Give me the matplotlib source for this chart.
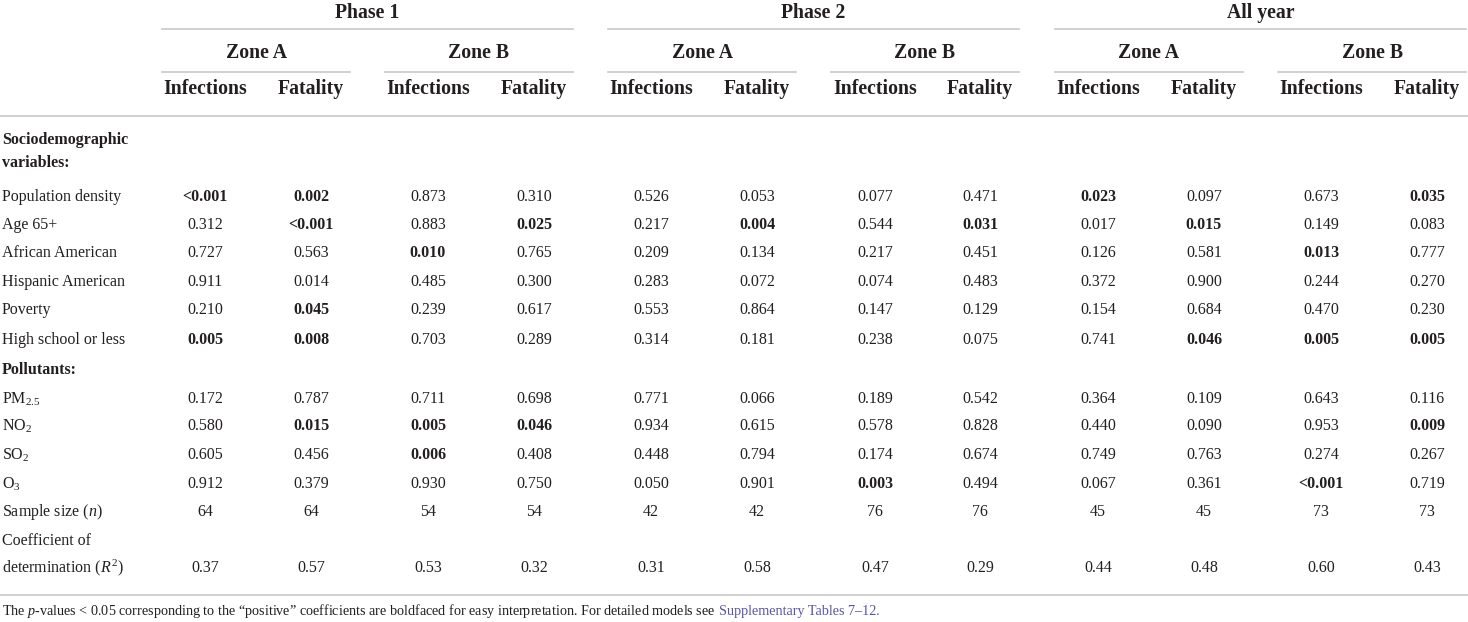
import matplotlib
matplotlib.use("Agg")
import matplotlib.pyplot as plt
import numpy as np

plt.rcParams['font.family'] = ['Liberation Serif', 'DejaVu Serif']
plt.rcParams['mathtext.fontset'] = 'custom'
plt.rcParams['mathtext.rm'] = 'Liberation Serif'
plt.rcParams['mathtext.it'] = 'Liberation Serif:italic'
plt.rcParams['mathtext.bf'] = 'Liberation Serif:bold'

phases = ["Phase 1", "Phase 2", "All year"]
zones = ["Zone A", "Zone B"]
outcomes = ["Infections", "Fatality"]

row_labels = ["Population density", "Age 65+", "African American", "Hispanic American",
              "Poverty", "High school or less",
              "PM$_{2.5}$", "NO$_2$", "SO$_2$", "O$_3$"]

values = [
    ["<0.001", "0.002", "0.873", "0.310", "0.526", "0.053", "0.077", "0.471", "0.023", "0.097", "0.673", "0.035"],
    ["0.312", "<0.001", "0.883", "0.025", "0.217", "0.004", "0.544", "0.031", "0.017", "0.015", "0.149", "0.083"],
    ["0.727", "0.563", "0.010", "0.765", "0.209", "0.134", "0.217", "0.451", "0.126", "0.581", "0.013", "0.777"],
    ["0.911", "0.014", "0.485", "0.300", "0.283", "0.072", "0.074", "0.483", "0.372", "0.900", "0.244", "0.270"],
    ["0.210", "0.045", "0.239", "0.617", "0.553", "0.864", "0.147", "0.129", "0.154", "0.684", "0.470", "0.230"],
    ["0.005", "0.008", "0.703", "0.289", "0.314", "0.181", "0.238", "0.075", "0.741", "0.046", "0.005", "0.005"],
    ["0.172", "0.787", "0.711", "0.698", "0.771", "0.066", "0.189", "0.542", "0.364", "0.109", "0.643", "0.116"],
    ["0.580", "0.015", "0.005", "0.046", "0.934", "0.615", "0.578", "0.828", "0.440", "0.090", "0.953", "0.009"],
    ["0.605", "0.456", "0.006", "0.408", "0.448", "0.794", "0.174", "0.674", "0.749", "0.763", "0.274", "0.267"],
    ["0.912", "0.379", "0.930", "0.750", "0.050", "0.901", "0.003", "0.494", "0.067", "0.361", "<0.001", "0.719"],
]

bold = [
    [1, 1, 0, 0, 0, 0, 0, 0, 1, 0, 0, 1],
    [0, 1, 0, 1, 0, 1, 0, 1, 0, 1, 0, 0],
    [0, 0, 1, 0, 0, 0, 0, 0, 0, 0, 1, 0],
    [0, 0, 0, 0, 0, 0, 0, 0, 0, 0, 0, 0],
    [0, 1, 0, 0, 0, 0, 0, 0, 0, 0, 0, 0],
    [1, 1, 0, 0, 0, 0, 0, 0, 0, 1, 1, 1],
    [0, 0, 0, 0, 0, 0, 0, 0, 0, 0, 0, 0],
    [0, 1, 1, 1, 0, 0, 0, 0, 0, 0, 0, 1],
    [0, 0, 1, 0, 0, 0, 0, 0, 0, 0, 0, 0],
    [0, 0, 0, 0, 0, 0, 1, 0, 0, 0, 1, 0],
]

sample_size = ["64", "64", "54", "54", "42", "42", "76", "76", "45", "45", "73", "73"]
r_squared = ["0.37", "0.57", "0.53", "0.32", "0.31", "0.58", "0.47", "0.29", "0.44", "0.48", "0.60", "0.43"]

W, H = 1468, 622
fig = plt.figure(figsize=(W / 100, H / 100), dpi=100)
ax = fig.add_axes([0, 0, 1, 1])
ax.set_xlim(0, W)
ax.set_ylim(H, 0)
ax.axis('off')

ink = '#231f20'
rule = '#c8c8c8'
fs = 11.5
hfs = 14.2
nfs = 10.2

# column layout
col_x = [205, 311, 428, 534, 651, 757, 875, 980, 1098, 1204, 1321, 1427]
phase_span = [(162, 573), (608, 1019), (1055, 1466)]

for p, (x0, x1) in enumerate(phase_span):
    ax.text((x0 + x1) / 2, 13, phases[p], ha='center', va='center', fontsize=hfs,
            fontweight='bold', color=ink)
    ax.plot([x0, x1], [29, 29], color=rule, lw=1.2)
    mid = (x0 + x1) / 2
    for z, (z0, z1) in enumerate([(x0, mid - 17.5), (mid + 17.5, x1)]):
        ax.text((z0 + z1) / 2, 53, zones[z], ha='center', va='center', fontsize=hfs,
                fontweight='bold', color=ink)
        ax.plot([z0, z1], [72, 72], color=rule, lw=1.2)
        for o in range(2):
            ax.text(col_x[p * 4 + z * 2 + o], 89, outcomes[o], ha='center', va='center',
                    fontsize=hfs, fontweight='bold', color=ink)

ax.plot([0, W], [116, 116], color=rule, lw=1.2)
ax.plot([0, W], [595, 595], color=rule, lw=1.2)

ax.text(2, 140, "Sociodemographic", ha='left', va='center', fontsize=fs, fontweight='bold', color=ink)
ax.text(2, 163, "variables:", ha='left', va='center', fontsize=fs, fontweight='bold', color=ink)
ax.text(2, 370, "Pollutants:", ha='left', va='center', fontsize=fs, fontweight='bold', color=ink)

row_y = [197, 225, 253, 282, 310, 340, 399, 426, 455, 484]
for r, y in enumerate(row_y):
    ax.text(2, y, row_labels[r], ha='left', va='center', fontsize=fs, color=ink)
    for c in range(12):
        ax.text(col_x[c], y, values[r][c], ha='center', va='center', fontsize=fs,
                fontweight='bold' if bold[r][c] else 'normal', color=ink)

ax.text(2, 512, "Sample size ($n$)", ha='left', va='center', fontsize=fs, color=ink)
ax.text(2, 541, "Coefficient of", ha='left', va='center', fontsize=fs, color=ink)
ax.text(2, 568, "determination ($R^2$)", ha='left', va='center', fontsize=fs, color=ink)
for c in range(12):
    ax.text(col_x[c], 512, sample_size[c], ha='center', va='center', fontsize=fs, color=ink)
    ax.text(col_x[c], 568, r_squared[c], ha='center', va='center', fontsize=fs, color=ink)

note = ax.text(2, 611, "The $\\it{p}$-values < 0.05 corresponding to the \u201cpositive\u201d coefficients are "
               "boldfaced for easy interpretation. For detailed models see",
               ha='left', va='center', fontsize=nfs, color=ink)
fig.canvas.draw()
bb = note.get_window_extent(fig.canvas.get_renderer())
x_end = ax.transData.inverted().transform((bb.x1, bb.y0))[0]
ax.text(x_end + 3.5, 611, "Supplementary Tables 7\u201312.", ha='left', va='center', fontsize=nfs,
        color='#5a55a8')

fig.savefig("out.png", dpi=100)
